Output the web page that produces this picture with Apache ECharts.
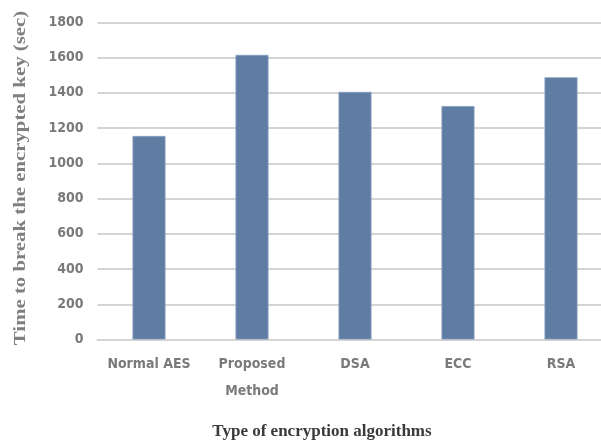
<!DOCTYPE html>
<html><head><meta charset="utf-8">
<script src="https://cdn.jsdelivr.net/npm/echarts@6/dist/echarts.min.js"></script>
<style>html,body{margin:0;padding:0;background:#fff;overflow:hidden;width:601px;height:444px}#c{width:640px;height:444px}</style>
</head><body><div id="c"></div>
<script>
const categories = ['Normal AES', 'Proposed\nMethod', 'DSA', 'ECC', 'RSA'];
const values = [1155, 1615, 1405, 1325, 1488];
const yTitle = 'Time to break the encrypted key (sec)';
const xTitle = 'Type of encryption algorithms';

const labelFont = '"DejaVu Sans Condensed", sans-serif';
const chart = echarts.init(document.getElementById('c'));
chart.setOption({
  animation: false,
  backgroundColor: '#fff',
  grid: { left: 97.5, top: 22.3, width: 515, height: 317.2, containLabel: false },
  xAxis: {
    type: 'category', data: categories,
    axisLine: { show: true, lineStyle: { color: '#d4d4d4', width: 2 } },
    axisTick: { show: false },
    axisLabel: { interval: 0, color: '#7a7a7a', fontSize: 14, fontWeight: 'bold', fontFamily: labelFont, margin: 11, lineHeight: 27 }
  },
  yAxis: {
    type: 'value', min: 0, max: 1800, interval: 200,
    axisLine: { show: false }, axisTick: { show: false },
    splitLine: { lineStyle: { color: '#d4d4d4', width: 2 } },
    axisLabel: { formatter: v => String(v), color: '#7a7a7a', fontSize: 14, fontWeight: 'bold', fontFamily: labelFont, margin: 14 }
  },
  series: [{
    type: 'bar', data: values, barWidth: 33,
    itemStyle: { color: '#5f7da3', borderColor: '#87a0c0', borderWidth: 0.8 }
  }],
  graphic: [
    { type: 'text', rotation: Math.PI / 2, scaleX: 1.3, x: 21, y: 178,
      style: { text: yTitle, fill: '#7f7f7f', font: 'bold 16px "Liberation Serif", serif', textAlign: 'center', textVerticalAlign: 'middle' } },
    { type: 'text', x: 322, y: 432,
      style: { text: xTitle, fill: '#3a3a3a', font: 'bold 17px "Liberation Serif", serif', textAlign: 'center', textVerticalAlign: 'middle' } }
  ]
});
</script></body></html>
